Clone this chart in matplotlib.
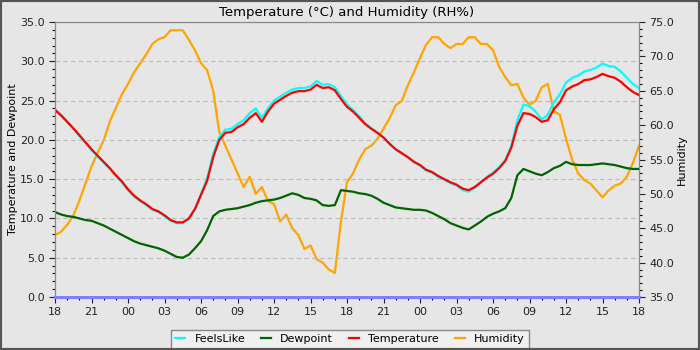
import numpy as np
import pandas as pd
import matplotlib
matplotlib.use("Agg")
import matplotlib.pyplot as plt
import matplotlib.dates as mdates
from matplotlib.ticker import MultipleLocator, FormatStrFormatter
from matplotlib.patches import Rectangle

# -- 1. Data (half-hourly readings, 18:00 -> 18:00 two days later) --
times = pd.date_range("2024-06-01 18:00", periods=97, freq="30min")

temperature = [
    23.8, 23.1, 22.3, 21.5, 20.6, 19.7, 18.8, 18.0, 17.2, 16.4,
    15.5, 14.7, 13.7, 12.9, 12.3, 11.8, 11.2, 10.9, 10.4, 9.8,
    9.5, 9.5, 10.0, 11.2, 13.0, 14.8, 17.8, 20.0, 20.9, 21.0,
    21.6, 22.0, 22.8, 23.4, 22.3, 23.6, 24.6, 25.1, 25.6, 26.0,
    26.2, 26.2, 26.4, 27.0, 26.6, 26.7, 26.3, 25.2, 24.2, 23.6,
    22.8, 22.0, 21.4, 20.9, 20.3, 19.5, 18.8, 18.3, 17.8, 17.2,
    16.8, 16.2, 15.9, 15.4, 15.0, 14.6, 14.3, 13.8, 13.6, 14.0,
    14.6, 15.2, 15.7, 16.4, 17.3, 19.0, 21.8, 23.4, 23.3, 22.9,
    22.3, 22.5, 23.9, 24.8, 26.3, 26.8, 27.1, 27.6, 27.7, 28.0,
    28.4, 28.1, 27.9, 27.4, 26.7, 26.1, 25.7,
]

feels_like = [
    23.9, 23.2, 22.3, 21.4, 20.5, 19.6, 18.7, 17.9, 17.1, 16.3,
    15.4, 14.6, 13.6, 12.8, 12.2, 11.7, 11.1, 10.8, 10.3, 9.7,
    9.4, 9.4, 9.9, 11.2, 13.1, 15.1, 18.2, 20.4, 21.3, 21.4,
    22.0, 22.5, 23.4, 24.0, 22.8, 24.0, 25.0, 25.5, 26.0, 26.4,
    26.6, 26.6, 26.8, 27.5, 27.0, 27.1, 26.7, 25.6, 24.5, 23.8,
    23.0, 22.1, 21.5, 20.9, 20.3, 19.5, 18.8, 18.3, 17.8, 17.2,
    16.7, 16.1, 15.8, 15.3, 14.9, 14.5, 14.2, 13.6, 13.4, 13.9,
    14.6, 15.3, 15.8, 16.5, 17.4, 19.2, 22.5, 24.5, 24.3, 23.6,
    22.6, 23.2, 24.8, 25.8, 27.3, 27.9, 28.2, 28.7, 28.9, 29.2,
    29.7, 29.4, 29.3, 28.7, 27.9, 27.1, 26.6,
]

dewpoint = [
    10.8, 10.5, 10.3, 10.2, 10.0, 9.8, 9.7, 9.4, 9.1, 8.7,
    8.3, 7.9, 7.5, 7.1, 6.8, 6.6, 6.4, 6.2, 5.9, 5.5,
    5.1, 5.0, 5.4, 6.2, 7.1, 8.5, 10.3, 10.9, 11.1, 11.2,
    11.3, 11.5, 11.7, 12.0, 12.2, 12.3, 12.4, 12.6, 12.9, 13.2,
    13.0, 12.6, 12.5, 12.3, 11.7, 11.6, 11.7, 13.6, 13.5, 13.4,
    13.2, 13.1, 12.9, 12.5, 12.0, 11.7, 11.4, 11.3, 11.2, 11.1,
    11.1, 11.0, 10.7, 10.3, 9.9, 9.4, 9.1, 8.8, 8.6, 9.1,
    9.6, 10.2, 10.6, 10.9, 11.3, 12.6, 15.5, 16.3, 16.0, 15.7,
    15.5, 15.9, 16.4, 16.7, 17.2, 16.9, 16.8, 16.8, 16.8, 16.9,
    17.0, 16.9, 16.8, 16.6, 16.4, 16.3, 16.3,
]

humidity = [
    44.0, 44.5, 45.5, 46.8, 49.0, 51.5, 54.0, 56.0, 57.8, 60.5,
    62.5, 64.5, 66.0, 67.7, 69.0, 70.3, 71.8, 72.5, 72.8, 73.8,
    73.8, 73.8, 72.4, 70.9, 69.0, 68.0, 65.0, 59.0, 57.0, 55.0,
    53.0, 51.0, 52.5, 50.0, 51.0, 49.0, 48.5, 46.0, 47.0, 45.0,
    44.0, 42.0, 42.5, 40.5, 40.0, 39.0, 38.5, 46.0, 51.7, 53.0,
    55.0, 56.5, 57.0, 58.0, 59.5, 61.0, 62.9, 63.5, 65.8, 67.7,
    69.8, 71.7, 72.8, 72.8, 71.8, 71.2, 71.8, 71.8, 72.8, 72.8,
    71.8, 71.8, 70.9, 68.5, 67.0, 65.8, 66.0, 64.0, 63.0, 63.5,
    65.5, 66.0, 62.0, 61.5, 58.0, 55.0, 53.0, 52.0, 51.5, 50.5,
    49.5, 50.5, 51.2, 51.5, 52.5, 54.5, 57.0,
]

# -- 2. Figure --
bg = "#e6e6e6"
fig = plt.figure(figsize=(7, 3.5), dpi=100, facecolor=bg)
ax2 = fig.add_axes([0.0786, 0.1514, 0.8343, 0.7857])
ax = ax2.twinx()
ax.yaxis.tick_left()
ax.yaxis.set_label_position("left")
ax2.yaxis.tick_right()
ax2.yaxis.set_label_position("right")
ax2.set_facecolor(bg)
ax.patch.set_visible(False)

l_hum, = ax2.plot(times, humidity, color="#ffa500", lw=1.6, label="Humidity")
l_feel, = ax.plot(times, feels_like, color="#00ffff", lw=1.6, label="FeelsLike")
l_dew, = ax.plot(times, dewpoint, color="#006400", lw=1.6, label="Dewpoint")
l_temp, = ax.plot(times, temperature, color="#ff0000", lw=1.6, label="Temperature")
ax.axhline(0, color="#7f7fff", lw=2.2, zorder=5, clip_on=False)

ax.set_ylim(0, 35)
ax2.set_ylim(35, 75)
ax.set_xlim(times[0], times[-1])

for a in (ax, ax2):
    a.yaxis.set_major_locator(MultipleLocator(5))
    a.yaxis.set_minor_locator(MultipleLocator(1))
    a.yaxis.set_major_formatter(FormatStrFormatter("%.1f"))
    a.tick_params(axis="both", which="major", length=4, width=0.8, labelsize=8, colors="#222222")
    a.tick_params(axis="both", which="minor", length=2, width=0.8)
    for s in a.spines.values():
        s.set_color("#888888")

ax.xaxis.set_major_locator(mdates.HourLocator(byhour=range(0, 24, 3)))
ax.xaxis.set_minor_locator(mdates.HourLocator())
ax.xaxis.set_major_formatter(mdates.DateFormatter("%H"))

ax.grid(True, which="major", axis="both", color="#bbbbbb", linestyle=(0, (4, 3)), lw=0.8)
ax.set_axisbelow(True)

ax.set_ylabel("Temperature and Dewpoint", fontsize=8, labelpad=1)
ax2.set_ylabel("Humidity", fontsize=8, labelpad=2)
ax.set_title("Temperature (\u00b0C) and Humidity (RH%)", fontsize=9.5, pad=4)

fig.legend(handles=[l_feel, l_dew, l_temp, l_hum], loc="lower center",
           bbox_to_anchor=(0.5, -0.012), ncol=4, fontsize=8, frameon=True,
           fancybox=False, edgecolor="#888888", facecolor="#f0f0f0", framealpha=1,
           handlelength=0.9, handletextpad=0.8, columnspacing=1.45)

fig.patches.append(Rectangle((0, 0), 1, 1, transform=fig.transFigure, fill=False,
                             edgecolor="#555555", lw=3, zorder=10))

fig.savefig("out.png", dpi=100, facecolor=bg)
